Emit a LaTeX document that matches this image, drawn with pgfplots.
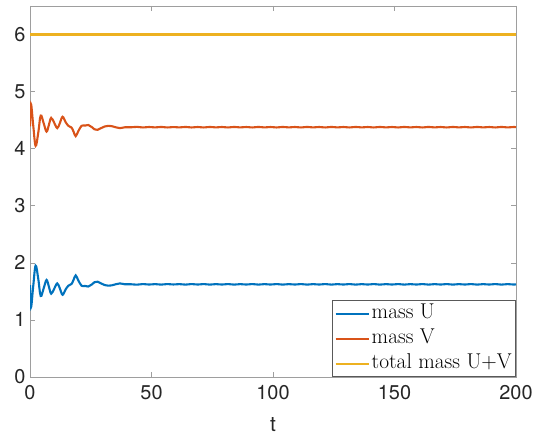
\documentclass[border=0pt]{standalone}
\usepackage{fontspec}
\usepackage{pgfplots}
\pgfplotsset{compat=1.18}
\newfontfamily\hv{TeX Gyre Heros}
\definecolor{mU}{rgb}{0,0.447,0.741}
\definecolor{mV}{rgb}{0.85,0.325,0.098}
\definecolor{mT}{rgb}{0.929,0.694,0.125}
\definecolor{axgray}{rgb}{0.62,0.62,0.62}
\definecolor{txt}{rgb}{0.15,0.15,0.15}
\pgfplotstableread{
t U
0 1.61
0.4 1.22
1.3 1.58
2.3 1.95
3.4 1.72
4.4 1.42
5.6 1.55
6.8 1.70
7.8 1.58
8.7 1.46
9.9 1.54
11.2 1.64
12.3 1.55
13.4 1.44
14.6 1.53
15.8 1.60
17.1 1.63
18.0 1.71
18.8 1.78
19.8 1.70
21.2 1.60
22.6 1.595
24.0 1.585
25.4 1.62
26.5 1.66
27.8 1.67
29.2 1.64
30.8 1.61
32.2 1.60
33.6 1.605
35.3 1.625
37.0 1.64
39.0 1.625
41.5 1.625
44.0 1.618
46.5 1.628
49.0 1.620
51.5 1.627
54.0 1.619
56.5 1.628
59.0 1.621
61.5 1.627
64.0 1.619
66.5 1.628
69.0 1.620
71.5 1.628
74.0 1.619
76.5 1.627
79.0 1.620
81.5 1.628
84.0 1.619
86.5 1.627
89.0 1.620
91.5 1.628
94.0 1.619
96.5 1.627
99.0 1.620
101.5 1.628
104.0 1.619
106.5 1.627
109.0 1.620
111.5 1.628
114.0 1.619
116.5 1.627
119.0 1.620
121.5 1.628
124.0 1.619
126.5 1.627
129.0 1.620
131.5 1.628
134.0 1.619
136.5 1.627
139.0 1.620
141.5 1.628
144.0 1.619
146.5 1.627
149.0 1.620
151.5 1.628
154.0 1.619
156.5 1.627
159.0 1.620
161.5 1.628
164.0 1.619
166.5 1.627
169.0 1.620
171.5 1.628
174.0 1.619
176.5 1.627
179.0 1.620
181.5 1.628
184.0 1.619
186.5 1.627
189.0 1.620
191.5 1.628
194.0 1.619
196.5 1.627
199.0 1.620
200 1.623
}\dataU
\pgfplotstableread{
t V
0 4.39
0.4 4.78
1.3 4.42
2.3 4.05
3.4 4.28
4.4 4.58
5.6 4.45
6.8 4.30
7.8 4.42
8.7 4.54
9.9 4.46
11.2 4.36
12.3 4.45
13.4 4.56
14.6 4.47
15.8 4.40
17.1 4.37
18.0 4.29
18.8 4.22
19.8 4.30
21.2 4.40
22.6 4.405
24.0 4.415
25.4 4.38
26.5 4.34
27.8 4.33
29.2 4.36
30.8 4.39
32.2 4.40
33.6 4.395
35.3 4.375
37.0 4.36
39.0 4.375
41.5 4.375
44.0 4.382
46.5 4.372
49.0 4.380
51.5 4.373
54.0 4.381
56.5 4.372
59.0 4.379
61.5 4.373
64.0 4.381
66.5 4.372
69.0 4.380
71.5 4.372
74.0 4.381
76.5 4.373
79.0 4.380
81.5 4.372
84.0 4.381
86.5 4.373
89.0 4.380
91.5 4.372
94.0 4.381
96.5 4.373
99.0 4.380
101.5 4.372
104.0 4.381
106.5 4.373
109.0 4.380
111.5 4.372
114.0 4.381
116.5 4.373
119.0 4.380
121.5 4.372
124.0 4.381
126.5 4.373
129.0 4.380
131.5 4.372
134.0 4.381
136.5 4.373
139.0 4.380
141.5 4.372
144.0 4.381
146.5 4.373
149.0 4.380
151.5 4.372
154.0 4.381
156.5 4.373
159.0 4.380
161.5 4.372
164.0 4.381
166.5 4.373
169.0 4.380
171.5 4.372
174.0 4.381
176.5 4.373
179.0 4.380
181.5 4.372
184.0 4.381
186.5 4.373
189.0 4.380
191.5 4.372
194.0 4.381
196.5 4.373
199.0 4.380
200 4.377
}\dataV
\pgfplotstableread{
t T
0 6
200 6
}\dataT
\begin{document}
\begin{tikzpicture}
\begin{axis}[
  scale only axis,
  width=486bp, height=371bp,
  xmin=0, xmax=200, ymin=0, ymax=6.5,
  xtick={0,50,100,150,200},
  ytick={0,1,2,3,4,5,6},
  tick align=inside,
  major tick length=5bp,
  axis line style={axgray, line width=0.7bp},
  tick style={axgray, line width=0.6bp},
  /pgf/number format/assume math mode=true,
  ticklabel style={font=\fontsize{20}{22}\selectfont\hv, text=txt},
  xticklabel style={yshift=-5bp},
  yticklabel style={xshift=-1bp},
  xlabel={t},
  xlabel style={at={(axis description cs:0.5,0)}, anchor=base, yshift=-54bp,
    font=\fontsize{21}{23}\selectfont\hv, text=txt},
  legend style={at={(1,0)}, anchor=south east, draw=black!65, line width=0.6bp,
    font=\fontsize{21.5}{24}\selectfont, row sep=3bp, inner xsep=2bp, inner ysep=2bp,
    nodes={inner sep=2bp, text height=14bp, text depth=4bp}},
  legend cell align=left,
  legend image code/.code={\draw[#1] (0bp,0bp) -- (33bp,0bp);},
]
\addplot[mU, line width=2.1bp, smooth, tension=0.6] table[x=t,y=U] {\dataU};
\addlegendentry{mass U}
\addplot[mV, line width=2.1bp, smooth, tension=0.6] table[x=t,y=V] {\dataV};
\addlegendentry{mass V}
\addplot[mT, line width=2.1bp] table[x=t,y=T] {\dataT};
\addlegendentry{total mass U+V}
\end{axis}
\path (current axis.south west) ++(-30bp,-58bp) coordinate (bl);
\path (current axis.north east) ++(21bp,6bp) coordinate (tr);
\path[use as bounding box] (bl) rectangle (tr);
\end{tikzpicture}
\end{document}
